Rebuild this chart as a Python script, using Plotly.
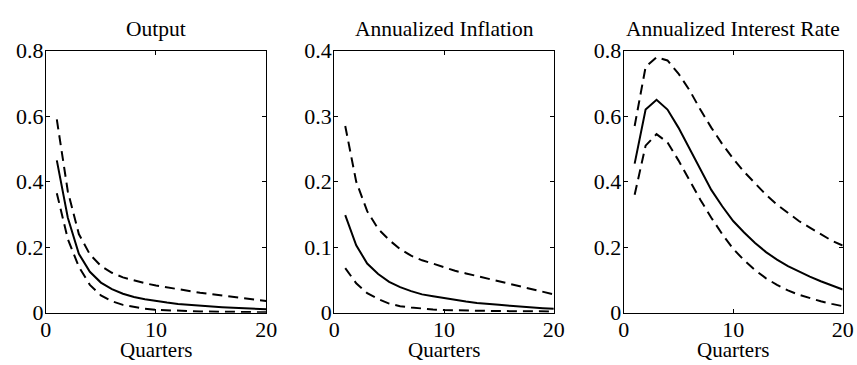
import plotly.graph_objects as go

# Impulse responses over 20 quarters: point estimate and error bands
quarters = list(range(1, 21))

output_mid = [0.465, 0.29, 0.18, 0.125, 0.092, 0.072, 0.058, 0.048, 0.041, 0.035,
              0.031, 0.027, 0.024, 0.021, 0.019, 0.017, 0.015, 0.013, 0.012, 0.011]
output_hi = [0.59, 0.37, 0.24, 0.178, 0.143, 0.122, 0.108, 0.098, 0.09, 0.083,
             0.077, 0.071, 0.066, 0.061, 0.057, 0.052, 0.048, 0.044, 0.04, 0.036]
output_lo = [0.365, 0.225, 0.14, 0.085, 0.053, 0.035, 0.024, 0.017, 0.012, 0.009,
             0.007, 0.006, 0.005, 0.004, 0.0035, 0.003, 0.0025, 0.002, 0.002, 0.0015]

infl_mid = [0.149, 0.103, 0.075, 0.059, 0.047, 0.039, 0.033, 0.028, 0.025, 0.022,
            0.019, 0.017, 0.015, 0.013, 0.012, 0.0105, 0.009, 0.008, 0.007, 0.006]
infl_hi = [0.285, 0.2, 0.155, 0.128, 0.111, 0.097, 0.087, 0.08, 0.075, 0.069,
           0.064, 0.06, 0.056, 0.052, 0.049, 0.045, 0.041, 0.037, 0.032, 0.028]
infl_lo = [0.068, 0.045, 0.03, 0.021, 0.014, 0.01, 0.008, 0.006, 0.005, 0.004,
           0.0035, 0.003, 0.003, 0.0028, 0.0026, 0.0024, 0.0022, 0.002, 0.002, 0.002]

rate_mid = [0.455, 0.62, 0.65, 0.62, 0.565, 0.5, 0.435, 0.375, 0.325, 0.28,
            0.245, 0.213, 0.185, 0.162, 0.142, 0.125, 0.11, 0.096, 0.083, 0.071]
rate_hi = [0.57, 0.75, 0.78, 0.77, 0.73, 0.68, 0.62, 0.565, 0.515, 0.47,
           0.43, 0.395, 0.36, 0.33, 0.305, 0.28, 0.26, 0.24, 0.22, 0.205]
rate_lo = [0.36, 0.51, 0.545, 0.52, 0.465, 0.405, 0.345, 0.29, 0.24, 0.195,
           0.16, 0.13, 0.105, 0.085, 0.068, 0.055, 0.044, 0.035, 0.027, 0.02]

titles = ["Output", "Annualized Inflation", "Annualized Interest Rate"]
y_tops = [0.8, 0.4, 0.8]
y_steps = [0.2, 0.1, 0.2]
x_ticks = [0, 10, 20]
x_label = "Quarters"

panels = [
    (output_mid, output_hi, output_lo),
    (infl_mid, infl_hi, infl_lo),
    (rate_mid, rate_hi, rate_lo),
]

# Figure size and panel placement, in figure pixels
W, H = 857, 372
x_px = [(40.6, 265.4), (334.9, 558.9), (630.2, 853.6)]
y_px = (41.4, 322.4)      # top, bottom of each panel
title_y = 17.9
xlabel_y = 362.0

FONT = "Liberation Serif, Times New Roman, serif"


def fx(px):
    return px / W


def fy(py):
    return 1 - py / H


fig = go.Figure()
for i, (mid, hi, lo) in enumerate(panels):
    ax = "" if i == 0 else str(i + 1)
    for series, dash in ((hi, "10px,6px"), (lo, "10px,6px"), (mid, "solid")):
        fig.add_trace(go.Scatter(
            x=quarters, y=series, mode="lines",
            line=dict(color="black", width=2, dash=dash),
            xaxis="x" + ax, yaxis="y" + ax, showlegend=False,
            hoverinfo="skip",
        ))

    common = dict(
        showline=True, linecolor="black", linewidth=1, mirror="ticks",
        ticks="inside", ticklen=4, tickcolor="black", tickwidth=1,
        showgrid=False, zeroline=False,
        tickfont=dict(family=FONT, size=22, color="black"),
    )
    x0, x1 = x_px[i]
    fig.layout["xaxis" + ax] = dict(
        common, domain=[fx(x0), fx(x1)], range=[0, 20],
        tickvals=x_ticks, anchor="y" + ax, ticklabelstandoff=-3,
    )
    n = int(round(y_tops[i] / y_steps[i]))
    yv = [round(k * y_steps[i], 3) for k in range(n + 1)]
    fig.layout["yaxis" + ax] = dict(
        common, domain=[fy(y_px[1]), fy(y_px[0])],
        range=[0, y_tops[i]], tickvals=yv,
        ticktext=["0" if v == 0 else f"{v:g}" for v in yv],
        anchor="x" + ax, ticklabelstandoff=-3,
    )

    cx = fx((x0 + x1) / 2)
    fig.add_annotation(
        text=titles[i], x=cx, y=fy(title_y), xref="paper", yref="paper",
        showarrow=False, xanchor="center", yanchor="middle",
        font=dict(family=FONT, size=21.5, color="black"),
    )
    fig.add_annotation(
        text=x_label, x=cx, y=fy(xlabel_y), xref="paper", yref="paper",
        showarrow=False, xanchor="center", yanchor="middle",
        font=dict(family=FONT, size=21, color="black"),
    )

fig.update_layout(
    width=W, height=H, autosize=False,
    margin=dict(l=0, r=0, t=0, b=0),
    paper_bgcolor="white", plot_bgcolor="white",
)

fig.write_html("out.html")
